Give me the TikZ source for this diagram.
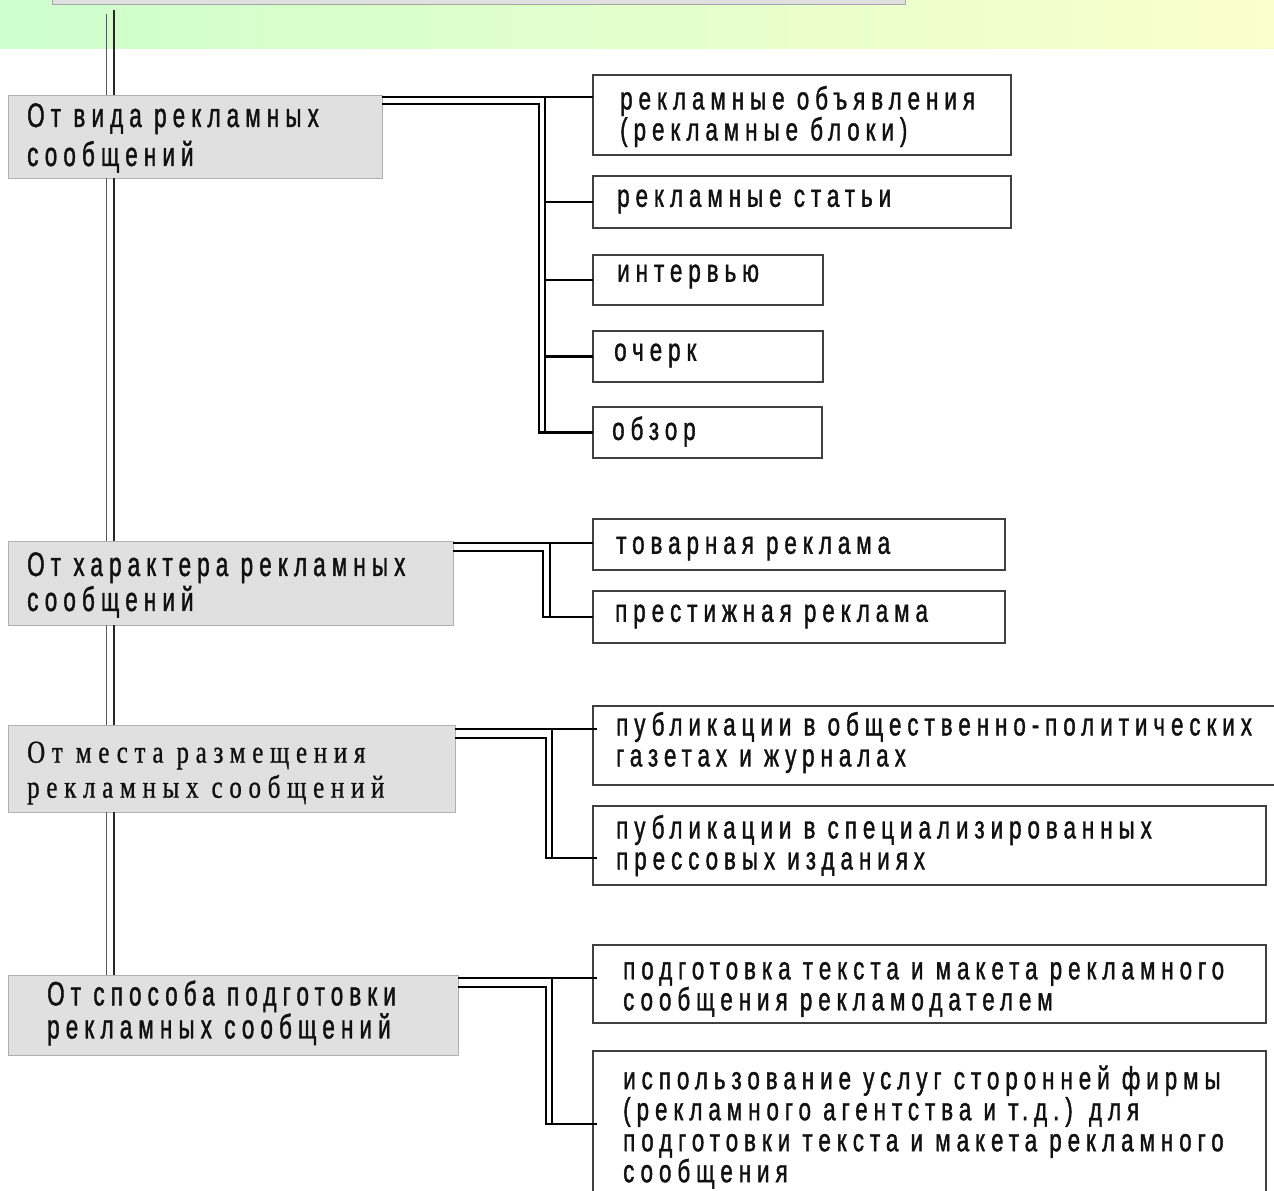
\documentclass[tikz,border=0pt]{standalone}
\usepackage{fontspec}
\newfontfamily\dsans[FakeStretch=0.70,LetterSpace=18.6,FakeBold=1.2]{Liberation Sans}
\newfontfamily\csans[FakeStretch=0.66,LetterSpace=18,FakeBold=1.2]{Liberation Sans}
\newfontfamily\dserif[FakeStretch=0.78,LetterSpace=21,FakeBold=0.8]{Liberation Serif}
\definecolor{bandL}{RGB}{204,255,204}
\definecolor{bandR}{RGB}{250,255,204}
\definecolor{catfill}{RGB}{224,224,224}
\definecolor{catborder}{RGB}{176,176,176}
\definecolor{subborder}{RGB}{64,64,64}
\definecolor{txt}{RGB}{17,17,17}
\begin{document}
\begin{tikzpicture}[x=1pt,y=-1pt,
  catbox/.style={draw=catborder, fill=catfill, line width=1pt, inner sep=0pt, outer sep=0pt, anchor=north west},
  subbox/.style={draw=subborder, fill=white, line width=1.3pt, inner sep=0pt, outer sep=0pt, anchor=north west},
  topbox/.style={draw=gray!70, fill=catfill, line width=1pt, inner sep=0pt, outer sep=0pt, anchor=north west},
  cattext/.style={anchor=west, align=left, inner sep=0pt, text=txt},
  subtext/.style={anchor=west, align=left, inner sep=0pt, text=txt, font=\fontsize{32}{31}\selectfont\dsans},
  conn/.style={line width=2.6pt, draw=black},
  trunkA/.style={line width=1pt, draw=black!65},
  trunkB/.style={line width=1.6pt, draw=black!85}
]
\path[use as bounding box] (0,0) rectangle (1274,1191);
\clip (0,0) rectangle (1274,1191);

% background band
\shade[left color=bandL, right color=bandR] (0,0) rectangle (1274,48);

% top box (cut off)
\node[topbox, minimum width=853pt, minimum height=44pt] (top) at (52,-40) {};

% trunk coordinates
\coordinate (tA) at (106,14);
\coordinate (tB) at (114,10);

% category boxes
\node[catbox, minimum width=374pt, minimum height=83pt] (c1) at (8,95) {};
\node[catbox, minimum width=445pt, minimum height=84pt] (c2) at (8,541) {};
\node[catbox, minimum width=447pt, minimum height=87pt] (c3) at (8,725) {};
\node[catbox, minimum width=450pt, minimum height=80pt] (c4) at (8,975) {};

% trunk
\draw[trunkA] (tA) -- (tA |- c1.north);
\draw[trunkB] (tB) -- (tB |- c1.north);
\draw[trunkA] (tA |- c1.south) -- (tA |- c2.north);
\draw[trunkB] (tB |- c1.south) -- (tB |- c2.north);
\draw[trunkA] (tA |- c2.south) -- (tA |- c3.north);
\draw[trunkB] (tB |- c2.south) -- (tB |- c3.north);
\draw[trunkA] (tA |- c3.south) -- (tA |- c4.north);
\draw[trunkB] (tB |- c3.south) -- (tB |- c4.north);

% sub boxes
\node[subbox, minimum width=418pt, minimum height=80pt] (r1a) at (593,75) {};
\node[subbox, minimum width=418pt, minimum height=52pt] (r1b) at (593,176) {};
\node[subbox, minimum width=230pt, minimum height=50pt] (r1c) at (593,255) {};
\node[subbox, minimum width=230pt, minimum height=51pt] (r1d) at (593,331) {};
\node[subbox, minimum width=229pt, minimum height=51pt] (r1e) at (593,407) {};
\node[subbox, minimum width=412pt, minimum height=51pt] (r2a) at (593,519) {};
\node[subbox, minimum width=412pt, minimum height=52pt] (r2b) at (593,591) {};
\node[subbox, minimum width=700pt, minimum height=79pt] (r3a) at (593,706) {};
\node[subbox, minimum width=673pt, minimum height=79pt] (r3b) at (593,806) {};
\node[subbox, minimum width=673pt, minimum height=78pt] (r4a) at (593,945) {};
\node[subbox, minimum width=673pt, minimum height=170pt] (r4b) at (593,1051) {};

% connector coordinates
\coordinate (v1) at (545,0);  \coordinate (w1) at (539,0);
\coordinate (v2) at (550,0);  \coordinate (w2) at (543,0);
\coordinate (v3) at (552,0);  \coordinate (w3) at (546,0);
\coordinate (v4) at (552,0);  \coordinate (w4) at (546,0);
\coordinate (e3a) at (597,729); \coordinate (e3b) at (597,858);
\coordinate (e4a) at (597,978); \coordinate (e4b) at (597,1124);

% group 1
\draw[conn] ([yshift=-2pt]c1.north east) coordinate (a1) -- (a1 -| r1a.west);
\draw[conn] (a1 -| v1) -- (v1 |- r1e.west);
\draw[conn] ([yshift=-9pt]c1.north east) -| (w1 |- r1e.west) -- (r1e.west);
\foreach \n in {r1b,r1c,r1d} \draw[conn] (v1 |- \n.west) -- (\n.west);

% group 2
\draw[conn] ([yshift=-2pt]c2.north east) coordinate (a2) -- (a2 -| r2a.west);
\draw[conn] (a2 -| v2) -- (v2 |- r2b.west);
\draw[conn] ([yshift=-10pt]c2.north east) -| (w2 |- r2b.west) -- (r2b.west);

% group 3
\draw[conn] (c3.east |- e3a) -- (e3a);
\draw[conn] (v3 |- e3a) -- (v3 |- e3b);
\draw[conn] ([yshift=-13pt]c3.north east) -| (w3 |- e3b) -- (e3b);

% group 4
\draw[conn] (c4.east |- e4a) -- (e4a);
\draw[conn] (v4 |- e4a) -- (v4 |- e4b);
\draw[conn] ([yshift=-12pt]c4.north east) -| (w4 |- e4b) -- (e4b);

% category texts
\node[cattext, font=\fontsize{34}{39}\selectfont\csans] (c1t) at (27,138) {От вида рекламных\\сообщений};
\node[cattext, font=\fontsize{34}{35}\selectfont\csans] (c2t) at (27,585) {От характера рекламных\\сообщений};
\node[cattext, font=\fontsize{32}{35}\selectfont\dserif] (c3t) at (27,773) {От места размещения\\рекламных сообщений};
\node[cattext, font=\fontsize{34}{31}\selectfont\csans] (c4t) at (47,1013) {От способа подготовки\\рекламных сообщений};

% sub texts
\node[subtext] (r1at) at (620,116.5) {рекламные объявления\\(рекламные блоки)};
\node[subtext] (r1bt) at (617,201.5) {рекламные статьи};
\node[subtext] (r1ct) at (617,276.5) {интервью};
\node[subtext] (r1dt) at (614,355.5) {очерк};
\node[subtext] (r1et) at (612,431.5) {обзор};
\node[subtext] (r2at) at (616,548.5) {товарная реклама};
\node[subtext] (r2bt) at (615,616.5) {престижная реклама};
\node[subtext] (r3at) at (616,742.5) {публикации в общественно-политических\\газетах и журналах};
\node[subtext] (r3bt) at (616,845.5) {публикации в специализированных\\прессовых изданиях};
\node[subtext] (r4at) at (623,989.5) {подготовка текста и макета рекламного\\сообщения рекламодателем};
\node[subtext] (r4bt) at (623,1127) {использование услуг сторонней фирмы\\(рекламного агентства и т.д.) для\\подготовки текста и макета рекламного\\сообщения};
\end{tikzpicture}
\end{document}
